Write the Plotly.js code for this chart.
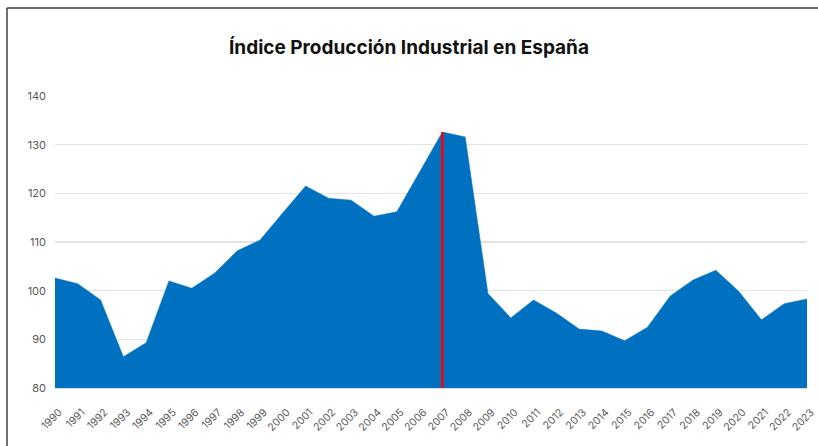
<!DOCTYPE html>
<html>
<head>
<meta charset="utf-8">
<script src="https://cdn.plot.ly/plotly-3.0.1.min.js"></script>
<style>
  html, body { margin: 0; padding: 0; background: #fff; }
  #chart { width: 818px; height: 446px; }
</style>
</head>
<body>
<div id="chart"></div>
<script>
// Índice de Producción Industrial, media anual
var years = [1990, 1991, 1992, 1993, 1994, 1995, 1996, 1997, 1998, 1999,
             2000, 2001, 2002, 2003, 2004, 2005, 2006, 2007, 2008, 2009,
             2010, 2011, 2012, 2013, 2014, 2015, 2016, 2017, 2018, 2019,
             2020, 2021, 2022, 2023];
var ipi = [102.6, 101.4, 98.1, 86.4, 89.3, 102.0, 100.5, 103.6, 108.2, 110.4,
           116.0, 121.5, 119.0, 118.6, 115.3, 116.2, 124.4, 132.6, 131.6, 99.4,
           94.4, 98.1, 95.4, 92.1, 91.7, 89.7, 92.5, 98.9, 102.2, 104.2,
           99.9, 94.0, 97.3, 98.3];
var yTicks = [80, 90, 100, 110, 120, 130, 140];

// año marcado con la línea roja
var markYear = 2007;
var markValue = ipi[years.indexOf(markYear)];

var area = {
    x: years,
    y: ipi,
    type: 'scatter',
    mode: 'lines',
    fill: 'tozeroy',
    fillcolor: '#0070C0',
    line: {color: '#0070C0', width: 0.5},
    hoverinfo: 'x+y'
};

var marker = {
    x: [markYear, markYear],
    y: [80, markValue],
    type: 'scatter',
    mode: 'lines',
    line: {color: '#FF0000', width: 2.5},
    hoverinfo: 'skip'
};

var layout = {
    width: 818,
    height: 446,
    margin: {l: 55, r: 11, t: 96, b: 58},
    paper_bgcolor: '#ffffff',
    plot_bgcolor: '#ffffff',
    showlegend: false,
    font: {family: 'Inter, "Open Sans", sans-serif', color: '#595959'},
    title: {
        text: '<b>Índice Producción Industrial en España</b>',
        font: {family: 'Inter, "Open Sans", sans-serif', size: 19, color: '#111111'},
        x: 0.5,
        xanchor: 'center',
        y: 0.893,
        yanchor: 'middle'
    },
    xaxis: {
        range: [1990, 2023],
        tickmode: 'array',
        tickvals: years,
        ticktext: years.map(String),
        tickangle: -45,
        tickfont: {size: 10.5, color: '#595959'},
        ticklabelstandoff: 13,
        ticklabelshift: 4,
        showgrid: false,
        zeroline: false,
        showline: true,
        linecolor: '#d9d9d9',
        linewidth: 1,
        ticks: ''
    },
    yaxis: {
        range: [80, 140],
        tickmode: 'array',
        tickvals: yTicks,
        tickfont: {size: 11, color: '#595959'},
        ticklabelstandoff: 8,
        showgrid: true,
        gridcolor: '#e3e3e3',
        gridwidth: 1.5,
        zeroline: false,
        showline: false,
        ticks: ''
    },
    shapes: [
        // marco del gráfico (izquierda y arriba)
        {type: 'line', xref: 'paper', yref: 'paper',
         x0: -48 / 752, x1: -48 / 752, y0: -58 / 292, y1: 380 / 292,
         line: {color: '#404040', width: 1.5}},
        {type: 'line', xref: 'paper', yref: 'paper',
         x0: -48 / 752, x1: 11 / 752 + 1, y0: 380 / 292, y1: 380 / 292,
         line: {color: '#404040', width: 1.5}}
    ]
};

Plotly.newPlot('chart', [area, marker], layout, {displayModeBar: false, staticPlot: true});
</script>
</body>
</html>
